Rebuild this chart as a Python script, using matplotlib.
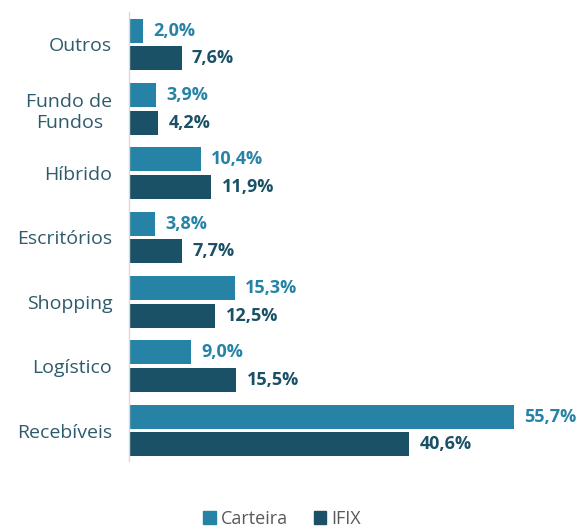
import matplotlib.pyplot as plt
from matplotlib.patches import Patch

categorias = ["Recebíveis", "Logístico", "Shopping", "Escritórios", "Híbrido", "Fundo de\nFundos", "Outros"]
carteira = [55.7, 9.0, 15.3, 3.8, 10.4, 3.9, 2.0]
ifix = [40.6, 15.5, 12.5, 7.7, 11.9, 4.2, 7.6]

cor_carteira = "#2683A6"
cor_ifix = "#1A5166"
cor_texto = "#2E5B6B"

plt.rcParams["font.family"] = ["Open Sans", "DejaVu Sans"]

fig = plt.figure(figsize=(5.76, 5.27), dpi=100)
ax = fig.add_axes([129 / 576, 1 - 461 / 527, 1 - 129 / 576, (461 - 12) / 527])

y = range(len(categorias))
h = 0.37
off = 0.215
b1 = ax.barh([i + off for i in y], carteira, height=h, color=cor_carteira)
b2 = ax.barh([i - off for i in y], ifix, height=h, color=cor_ifix)

for bar, v in zip(b1, carteira):
    ax.annotate(f"{v:.1f}%".replace(".", ","), (bar.get_width(), bar.get_y() + bar.get_height() / 2),
                xytext=(7.5, 0), textcoords="offset points", va="center", ha="left",
                fontsize=13, fontweight="bold", color=cor_carteira)
for bar, v in zip(b2, ifix):
    ax.annotate(f"{v:.1f}%".replace(".", ","), (bar.get_width(), bar.get_y() + bar.get_height() / 2),
                xytext=(7.5, 0), textcoords="offset points", va="center", ha="left",
                fontsize=13, fontweight="bold", color=cor_ifix)

ax.set_xlim(0, 64.7)
ax.set_ylim(-0.474, 6.505)
ax.set_yticks(list(y))
ax.set_yticklabels(categorias, fontsize=14, color=cor_texto, multialignment="center")
ax.tick_params(axis="y", length=0, pad=12)
ax.set_xticks([])
for s in ["top", "right", "bottom"]:
    ax.spines[s].set_visible(False)
ax.spines["left"].set_color("#D9D9D9")
ax.spines["left"].set_linewidth(1)

handles = [Patch(color=cor_carteira, label="Carteira"), Patch(color=cor_ifix, label="IFIX")]
leg = fig.legend(handles=handles, loc="center", bbox_to_anchor=(0.49, 1 - 519 / 527), ncol=2,
                 frameon=False, handlelength=0.7, handleheight=0.7, handletextpad=0.3,
                 columnspacing=1.4, fontsize=13)
for t in leg.get_texts():
    t.set_color("#595959")

fig.savefig("out.png", dpi=100)
